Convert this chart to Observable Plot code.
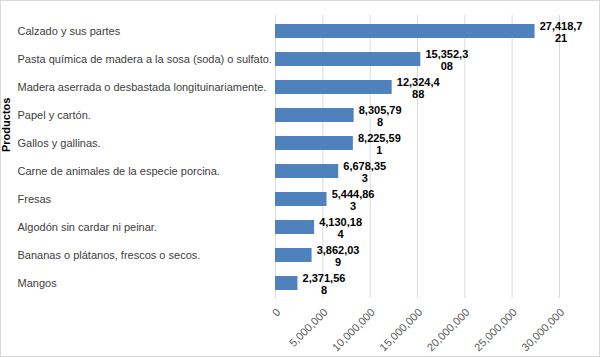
<!DOCTYPE html>
<html>
<head>
<meta charset="utf-8">
<script src="https://cdn.jsdelivr.net/npm/d3@7"></script>
<script src="https://cdn.jsdelivr.net/npm/@observablehq/plot@0.6"></script>
<style>
  html, body { margin: 0; padding: 0; background: #fff; }
  #chart { width: 600px; height: 357px; position: relative; overflow: hidden; }
  #chart svg { display: block; max-width: none; }
  #frame { position: absolute; left: 0; top: 0; width: 600px; height: 357px; box-sizing: border-box; border: 1px solid #d9d9d9; pointer-events: none; }
</style>
</head>
<body>
<div id="chart"><div id="frame"></div></div>
<script>
const productos = [
  "Calzado y sus partes",
  "Pasta química de madera a la sosa (soda) o sulfato.",
  "Madera aserrada o desbastada longituinariamente.",
  "Papel y cartón.",
  "Gallos y gallinas.",
  "Carne de animales de la especie porcina.",
  "Fresas",
  "Algodón sin cardar ni peinar.",
  "Bananas o plátanos, frescos o secos.",
  "Mangos"
];
const valores = [27418721, 15352308, 12324488, 8305798, 8225591, 6678353, 5444863, 4130184, 3862039, 2371568];
const xTicks = [0, 5000000, 10000000, 15000000, 20000000, 25000000, 30000000];
const yTitle = "Productos";

const data = productos.map((p, i) => ({producto: p, valor: valores[i]}));
const fmt = d3.format(",");
const wrap = v => { const s = fmt(v); return s.length > 8 ? s.slice(0, 8) + "\n" + s.slice(8) : s; };

const chart = Plot.plot({
  width: 600,
  height: 357,
  marginLeft: 275,
  marginRight: 41,
  marginTop: 15,
  marginBottom: 59,
  style: {fontFamily: "'Liberation Sans', Arial, sans-serif", fontSize: "11px", color: "#404040", background: "transparent"},
  x: {domain: [0, 30000000]},
  y: {domain: productos, paddingInner: 0.5, paddingOuter: 0.25},
  marks: [
    Plot.gridX(xTicks, {stroke: "#d9d9d9", strokeOpacity: 1}),
    Plot.barX(data, {x: "valor", y: "producto", fill: "#4f81bd"}),
    Plot.text(data, {x: "valor", y: "producto", text: d => wrap(d.valor), textAnchor: "middle", dx: 26, dy: 1, fontWeight: "bold", fill: "#000", lineHeight: 1.05, fontSize: 11}),
    Plot.axisX({ticks: xTicks, tickFormat: fmt, tickRotate: -45, tickSize: 0, tickPadding: 12, dx: 3, fill: "#595959", label: null}),
    Plot.axisY({tickSize: 0, textAnchor: "start", dx: -249, fill: "#404040", label: null}),
    Plot.text([yTitle], {frameAnchor: "left", dx: -269, dy: -5, rotate: -90, fontWeight: "bold", fill: "#000", fontSize: 11})
  ]
});
document.getElementById("chart").insertBefore(chart, document.getElementById("frame"));
</script>
</body>
</html>
